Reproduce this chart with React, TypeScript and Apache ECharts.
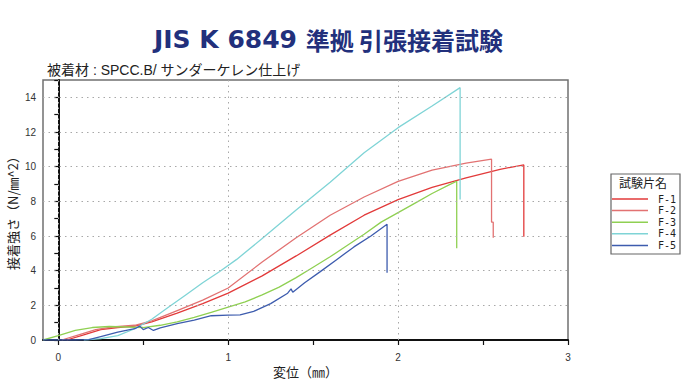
import React, { useEffect, useRef } from "react";
import * as echarts from "echarts";

const titleLatin = "JIS K 6849";
const titleCJK = "準拠 引張接着試験";
const chartSubtitle = "被着材 : SPCC.B/ サンダーケレン仕上げ";
const xAxisName = "変位（㎜）";
const yAxisName = "接着強さ（N/㎜^2）";
const legendTitle = "試験片名";

const seriesNames = ["F-1", "F-2", "F-3", "F-4", "F-5"];
const seriesColors = ["#e23a3a", "#e27272", "#8fd052", "#7fd4d6", "#3d5cae"];

const f1: number[][] = [
  [0.05, 0], [0.15, 0.3], [0.25, 0.6], [0.35, 0.72], [0.45, 0.8], [0.55, 1.05],
  [0.7, 1.55], [0.85, 2.1], [1.0, 2.7], [1.2, 3.7], [1.4, 4.85], [1.6, 6.05],
  [1.8, 7.2], [2.0, 8.1], [2.2, 8.8], [2.4, 9.35], [2.6, 9.85], [2.74, 10.1], [2.74, 5.95],
];
const f2: number[][] = [
  [0.02, 0], [0.12, 0.3], [0.22, 0.6], [0.32, 0.75], [0.45, 0.85], [0.55, 1.1],
  [0.7, 1.7], [0.85, 2.3], [1.0, 3.0], [1.2, 4.5], [1.4, 5.9], [1.6, 7.2],
  [1.8, 8.25], [2.0, 9.15], [2.2, 9.8], [2.4, 10.2], [2.55, 10.43], [2.55, 6.8],
  [2.56, 6.8], [2.56, 5.9],
];
const f3: number[][] = [
  [-0.09, 0], [0.0, 0.25], [0.1, 0.55], [0.2, 0.72], [0.3, 0.78], [0.4, 0.75],
  [0.5, 0.72], [0.6, 0.85], [0.7, 1.05], [0.8, 1.3], [0.9, 1.6], [1.0, 1.9],
  [1.1, 2.2], [1.2, 2.6], [1.3, 3.05], [1.4, 3.6], [1.5, 4.2], [1.6, 4.8],
  [1.7, 5.45], [1.8, 6.1], [1.9, 6.8], [2.0, 7.35], [2.1, 7.9], [2.2, 8.45],
  [2.3, 8.95], [2.345, 9.16], [2.345, 5.3],
];
const f4: number[][] = [
  [0.15, 0], [0.25, 0.08], [0.35, 0.25], [0.45, 0.65], [0.55, 1.2], [0.65, 1.9],
  [0.75, 2.6], [0.85, 3.3], [0.95, 3.95], [1.05, 4.65], [1.2, 5.85], [1.4, 7.5],
  [1.6, 9.1], [1.8, 10.8], [2.0, 12.25], [2.2, 13.5], [2.365, 14.56], [2.365, 8.1],
];
const f5: number[][] = [
  [-0.09, 0], [0.1, 0], [0.18, 0.02], [0.25, 0.2], [0.35, 0.45], [0.45, 0.65],
  [0.48, 0.8], [0.5, 0.6], [0.53, 0.72], [0.56, 0.55], [0.6, 0.7], [0.7, 0.95],
  [0.8, 1.15], [0.9, 1.4], [1.0, 1.43], [1.07, 1.45], [1.15, 1.65], [1.25, 2.1],
  [1.35, 2.7], [1.37, 2.95], [1.38, 2.75], [1.45, 3.3], [1.54, 3.93], [1.64, 4.65],
  [1.74, 5.37], [1.84, 6.0], [1.935, 6.68], [1.935, 3.88],
];
const seriesData = [f1, f2, f3, f4, f5];

const xTickValues = [0, 0.5, 1, 1.5, 2, 2.5, 3];
const xLabelValues = [0, 1, 2, 3];
const xGridValues = [0, 1, 2];
const yGridValues = [2, 4, 6, 8, 10, 12, 14];

const FONT = "'Liberation Sans', 'Noto Sans CJK JP', sans-serif";
const CJK = "'Noto Sans CJK JP', sans-serif";

export default function App() {
  const ref = useRef<HTMLDivElement>(null);
  useEffect(() => {
    if (!ref.current) return;
    const chart = echarts.init(ref.current, null, { renderer: "svg" });
    const gridLine = { color: "#a8a8a8", width: 1, type: [1.5, 4] as number[] };
    const option: any = {
      animation: false,
      backgroundColor: "#ffffff",
      textStyle: { fontFamily: FONT },
      title: [
        {
          text: "{l|" + titleLatin + " }{c|" + titleCJK + "}",
          left: 149,
          top: 22,
          textStyle: {
            rich: {
              l: { fontSize: 25, fontWeight: 600, color: "#22307c", fontFamily: "'DejaVu Sans', sans-serif" },
              c: { fontSize: 24, fontWeight: "bold", color: "#22307c", fontFamily: CJK },
            },
          },
        },
        {
          text: chartSubtitle,
          left: 42,
          top: 58,
          textStyle: { fontSize: 14, fontWeight: "normal", color: "#222", fontFamily: FONT },
        },
      ],
      grid: {
        left: 43,
        top: 80,
        right: 117,
        bottom: 40,
        outerBoundsMode: "none",
        containLabel: false,
        show: true,
        borderColor: "#707070",
        borderWidth: 1.5,
        backgroundColor: "#ffffff",
      },
      legend: {
        data: seriesNames,
        orient: "vertical",
        left: 612,
        top: 194,
        padding: 0,
        icon: "rect",
        itemWidth: 36,
        itemHeight: 1.5,
        itemGap: 1.6,
        selectedMode: false,
        textStyle: {
          fontSize: 10,
          lineHeight: 10,
          color: "#222",
          fontFamily: "'DejaVu Sans Mono', monospace",
          padding: [0, 0, 0, 5],
        },
      },
      graphic: [
        {
          type: "rect",
          z: -10,
          shape: { x: 611, y: 174, width: 69, height: 80 },
          style: { fill: "none", stroke: "#666", lineWidth: 1.2 },
        },
        {
          type: "text",
          x: 619,
          y: 176,
          style: { text: legendTitle, fontSize: 12, fill: "#222", fontFamily: CJK },
        },
      ],
      xAxis: {
        type: "value",
        min: -0.09,
        max: 3,
        name: xAxisName,
        nameLocation: "middle",
        nameGap: 25,
        nameMoveOverlap: false,
        nameTextStyle: { fontSize: 13, color: "#222", fontFamily: CJK },
        axisLine: { show: true, onZero: false, lineStyle: { color: "#111", width: 2 } },
        axisTick: { show: true, length: 5, customValues: xTickValues, lineStyle: { color: "#111", width: 1.2 } },
        axisLabel: { customValues: xLabelValues, margin: 12, fontSize: 10, color: "#333" },
        splitLine: { show: false },
      },
      yAxis: {
        type: "value",
        min: 0,
        max: 15,
        interval: 1,
        name: yAxisName,
        nameLocation: "middle",
        nameRotate: 90,
        nameGap: 24,
        nameMoveOverlap: false,
        nameTextStyle: { fontSize: 13, color: "#222", fontFamily: CJK },
        axisLine: { show: true, lineStyle: { color: "#111", width: 2 } },
        axisTick: { show: true, length: 4, lineStyle: { color: "#111", width: 1.2 } },
        axisLabel: {
          margin: 7,
          fontSize: 10,
          color: "#333",
          formatter: (v: number) => (v % 2 === 0 && v < 15 ? String(v) : ""),
        },
        splitLine: { show: false },
      },
      series: [
        {
          name: "grid",
          type: "line",
          data: [],
          z: 0,
          silent: true,
          markLine: {
            silent: true,
            symbol: "none",
            label: { show: false },
            lineStyle: gridLine,
            emphasis: { disabled: true },
            data: [
              ...xGridValues.map((v) => ({ xAxis: v })),
              ...yGridValues.map((v) => ({ yAxis: v })),
            ],
          },
        },
        ...seriesNames.map((name, i) => ({
          name,
          type: "line",
          data: seriesData[i],
          symbol: "none",
          showSymbol: false,
          z: 2,
          color: seriesColors[i],
          lineStyle: { color: seriesColors[i], width: 1.3 },
        })),
      ],
    };
    chart.setOption(option);
    return () => chart.dispose();
  }, []);
  return (
    <div
      ref={ref}
      style={{ position: "absolute", left: 0, top: 0, width: 685, height: 380 }}
    />
  );
}
